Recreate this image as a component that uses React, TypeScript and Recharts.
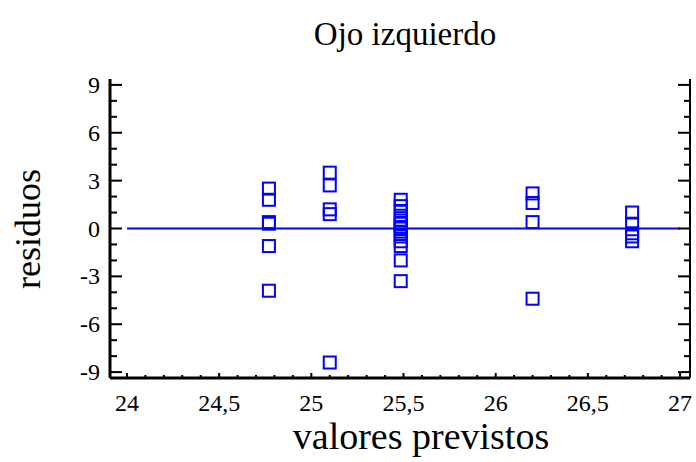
import React from 'react';
import { ScatterChart, Scatter, XAxis, YAxis, ReferenceLine } from 'recharts';

// predicted value columns and their residuals
const col1X = 24.77;
const col1Res = [2.5, 1.8, 0.4, 0.3, -1.1, -3.9];
const col2X = 25.1;
const col2Res = [3.5, 2.7, 1.2, 0.9, -8.4];
const col3X = 25.485;
const col3Res = [1.8, 1.4, 1.1, 0.8, 0.5, 0.3, 0.1, 0.0, -0.2, -0.5, -0.8, -1.1, -2.0, -3.3];
const col4X = 26.2;
const col4Res = [2.2, 1.6, 0.4, -4.4];
const col5X = 26.74;
const col5Res = [1.0, 0.3, -0.3, -0.5, -0.8];

const xTicks = [
  24, 24.1, 24.2, 24.3, 24.4, 24.5, 24.6, 24.7, 24.8, 24.9,
  25, 25.1, 25.2, 25.3, 25.4, 25.5, 25.6, 25.7, 25.8, 25.9,
  26, 26.1, 26.2, 26.3, 26.4, 26.5, 26.6, 26.7, 26.8, 26.9, 27,
];
const yTicks = [-9, -8, -7, -6, -5, -4, -3, -2, -1, 0, 1, 2, 3, 4, 5, 6, 7, 8, 9];

const title = 'Ojo izquierdo';
const xTitle = 'valores previstos';
const yTitle = 'residuos';

const points = [
  ...col1Res.map(r => ({ x: col1X, y: r })),
  ...col2Res.map(r => ({ x: col2X, y: r })),
  ...col3Res.map(r => ({ x: col3X, y: r })),
  ...col4Res.map(r => ({ x: col4X, y: r })),
  ...col5Res.map(r => ({ x: col5X, y: r })),
];

const FONT = "'Liberation Serif', 'Times New Roman', serif";
const BLUE = '#0000ff';
const txt = { fontFamily: FONT };

const isMajorX = (v: number) => Math.abs(v * 2 - Math.round(v * 2)) < 1e-6;
const fmt = (v: number) => String(Math.round(v * 10) / 10).replace('.', ',');

const LeftTick = (props: any) => {
  const { x, y, payload } = props;
  const v = payload.value;
  const major = v % 3 === 0;
  return (
    <g>
      <line x1={x} y1={y} x2={x + (major ? 12 : 7)} y2={y} stroke="#000" strokeWidth={2} />
      {major && (
        <text x={x - 10} y={y + 8} textAnchor="end" fontSize={24} style={txt} fill="#000">
          {v}
        </text>
      )}
    </g>
  );
};

const RightTick = (props: any) => {
  const { x, y, payload } = props;
  const major = payload.value % 3 === 0;
  return <line x1={x} y1={y} x2={x - (major ? 12 : 6)} y2={y} stroke="#000" strokeWidth={2} />;
};

const BottomTick = (props: any) => {
  const { x, y, payload } = props;
  const v = payload.value;
  const major = isMajorX(v);
  return (
    <g>
      <line x1={x} y1={y} x2={x} y2={y - (major ? 5 : 3)} stroke="#000" strokeWidth={2} />
      {major && (
        <text x={x} y={y + 33} textAnchor="middle" fontSize={24} style={txt} fill="#000">
          {fmt(v)}
        </text>
      )}
    </g>
  );
};

const TopTick = (props: any) => {
  const { x, y, payload } = props;
  const major = isMajorX(payload.value);
  return <line x1={x} y1={y} x2={x} y2={y + (major ? 5 : 3)} stroke="#000" strokeWidth={2} />;
};

const Square = (props: any) => {
  const { cx, cy } = props;
  return <rect x={cx - 6} y={cy - 6} width={12} height={12} fill="none" stroke={BLUE} strokeWidth={2} />;
};

const App: React.FC = () => {
  return (
    <div style={{ position: 'relative', width: 696, height: 462, background: '#fff' }}>
      <style>{'body{margin:0}'}</style>
      <ScatterChart width={696} height={462} margin={{ top: 79, right: 0, bottom: 0, left: 0 }}>
        <XAxis
          xAxisId="b"
          type="number"
          dataKey="x"
          domain={[23.908, 27.054]}
          ticks={xTicks}
          interval={0}
          height={84}
          tickSize={0}
          tickMargin={0}
          tick={<BottomTick />}
          axisLine={{ stroke: '#000', strokeWidth: 3 }}
          allowDataOverflow
        />
        <XAxis
          xAxisId="t"
          orientation="top"
          type="number"
          domain={[23.908, 27.054]}
          ticks={xTicks}
          interval={0}
          height={0}
          tickSize={0}
          tickMargin={0}
          tick={<TopTick />}
          axisLine={{ stroke: '#000', strokeWidth: 2 }}
          allowDataOverflow
        />
        <YAxis
          yAxisId="l"
          type="number"
          dataKey="y"
          domain={[-9.37, 9.37]}
          ticks={yTicks}
          interval={0}
          width={110}
          tickSize={0}
          tickMargin={0}
          tick={<LeftTick />}
          axisLine={{ stroke: '#000', strokeWidth: 3 }}
          allowDataOverflow
        />
        <YAxis
          yAxisId="r"
          orientation="right"
          type="number"
          domain={[-9.37, 9.37]}
          ticks={yTicks}
          interval={0}
          width={6}
          tickSize={0}
          tickMargin={0}
          tick={<RightTick />}
          axisLine={{ stroke: '#000', strokeWidth: 2 }}
          allowDataOverflow
        />
        <ReferenceLine
          xAxisId="b"
          yAxisId="l"
          segment={[{ x: 24, y: 0 }, { x: 27, y: 0 }]}
          stroke={BLUE}
          strokeWidth={2}
        />
        <Scatter xAxisId="b" yAxisId="l" data={points} shape={<Square />} isAnimationActive={false} />
      </ScatterChart>
      <svg width={696} height={462} style={{ position: 'absolute', left: 0, top: 0, pointerEvents: 'none' }}>
        <text x={405} y={45} textAnchor="middle" fontSize={33} style={txt} fill="#000">{title}</text>
        <text x={421} y={449} textAnchor="middle" fontSize={38} style={txt} fill="#000">{xTitle}</text>
        <text
          x={0}
          y={0}
          transform="translate(40,229) rotate(-90)"
          textAnchor="middle"
          fontSize={36}
          style={txt}
          fill="#000"
        >
          {yTitle}
        </text>
      </svg>
    </div>
  );
};

export default App;
